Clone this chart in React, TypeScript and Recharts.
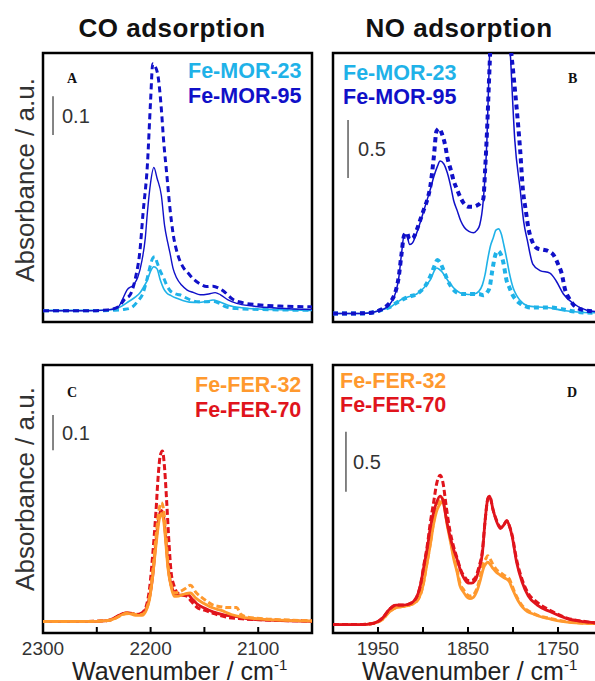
import React from 'react';
import { LineChart, Line, XAxis, YAxis, ReferenceArea, ReferenceLine } from 'recharts';

const FONT = '"Liberation Sans", Arial, sans-serif';
const SERIF = '"Liberation Serif", "Times New Roman", serif';

const LIGHT_BLUE = '#1FB2E8';
const DARK_BLUE = '#1010C8';
const ORANGE = '#FF992E';
const RED = '#E0141C';

// ---------- axes ----------
const coDomain = [2050, 2300];
const coTicks = [2300, 2250, 2200, 2150, 2100, 2050];
const coTickLabels = [2300, 2200, 2100];
const noDomain = [1700, 2000];
const noTicks = [2000, 1950, 1900, 1850, 1800, 1750, 1700];
const noTickLabels = [1950, 1850, 1750];
const coYDomain = [-0.023, 0.6];
const coYTicks = [0, 0.1, 0.2, 0.3, 0.4, 0.5];
const noYDomain = [-0.065, 2.0];
const noYTicks = [0, 0.5, 1.0, 1.5];

// ---------- Panel A: CO on Fe-MOR ----------
const aX_mor95_dash = [2300, 2260, 2240, 2230, 2224, 2219, 2214, 2210, 2207, 2203, 2200, 2198, 2196, 2193, 2190, 2188, 2185, 2182, 2179, 2175, 2170, 2165, 2160, 2154, 2148, 2142, 2137, 2131, 2124, 2115, 2100, 2080, 2050];
const aY_mor95_dash = [0.003, 0.003, 0.005, 0.012, 0.03, 0.04, 0.08, 0.14, 0.23, 0.34, 0.49, 0.575, 0.57, 0.545, 0.47, 0.40, 0.32, 0.24, 0.18, 0.135, 0.105, 0.09, 0.076, 0.065, 0.059, 0.06, 0.056, 0.046, 0.03, 0.022, 0.017, 0.014, 0.012];
const aX_mor95_solid = [2300, 2260, 2240, 2230, 2226, 2222, 2216, 2212, 2208, 2205, 2203, 2200, 2197, 2194, 2190, 2187, 2184, 2182, 2179, 2176, 2171, 2166, 2160, 2154, 2146, 2140, 2135, 2128, 2120, 2105, 2080, 2050];
const aY_mor95_solid = [0.003, 0.003, 0.005, 0.012, 0.03, 0.051, 0.063, 0.08, 0.12, 0.17, 0.23, 0.30, 0.335, 0.31, 0.27, 0.2, 0.16, 0.137, 0.10, 0.08, 0.062, 0.051, 0.045, 0.04, 0.042, 0.045, 0.04, 0.028, 0.02, 0.014, 0.009, 0.006];
const aX_mor23_dash = [2300, 2250, 2235, 2225, 2218, 2212, 2207, 2203, 2200, 2198, 2196, 2194, 2191, 2188, 2185, 2182, 2177, 2173, 2168, 2163, 2155, 2148, 2142, 2136, 2130, 2120, 2100, 2050];
const aY_mor23_dash = [0.003, 0.003, 0.004, 0.006, 0.01, 0.025, 0.044, 0.08, 0.11, 0.125, 0.128, 0.115, 0.095, 0.08, 0.062, 0.05, 0.042, 0.04, 0.034, 0.028, 0.024, 0.024, 0.025, 0.02, 0.012, 0.008, 0.006, 0.004];
const aX_mor23_solid = [2300, 2250, 2235, 2228, 2220, 2214, 2210, 2206, 2203, 2200, 2197, 2194, 2191, 2188, 2185, 2181, 2177, 2170, 2164, 2155, 2148, 2142, 2136, 2128, 2115, 2100, 2050];
const aY_mor23_solid = [0.004, 0.004, 0.006, 0.012, 0.025, 0.035, 0.044, 0.06, 0.074, 0.095, 0.105, 0.1, 0.074, 0.055, 0.044, 0.038, 0.033, 0.027, 0.023, 0.022, 0.025, 0.028, 0.024, 0.016, 0.01, 0.007, 0.004];

// ---------- Panel B: NO on Fe-MOR ----------
const bX_mor95_dash = [2000, 1980, 1960, 1950, 1940, 1935, 1930, 1927, 1924, 1921, 1918, 1915, 1911, 1907, 1903, 1899, 1895, 1892, 1888, 1885, 1882, 1879, 1875, 1873, 1869, 1866, 1862, 1859, 1855, 1850, 1845, 1840, 1836, 1833, 1831, 1829, 1826, 1822, 1814, 1807, 1803, 1799, 1796, 1792, 1789, 1786, 1783, 1779, 1773, 1767, 1761, 1755, 1750, 1746, 1742, 1738, 1734, 1726, 1715, 1700];
const bY_mor95_dash = [0, 0, 0.005, 0.02, 0.06, 0.1, 0.18, 0.28, 0.45, 0.6, 0.62, 0.57, 0.58, 0.64, 0.72, 0.8, 0.88, 0.97, 1.2, 1.4, 1.42, 1.38, 1.28, 1.2, 1.1, 1.02, 0.95, 0.9, 0.85, 0.82, 0.82, 0.83, 0.85, 0.88, 1.1, 1.38, 1.9, 2.5, 2.85, 2.6, 2.1, 1.8, 1.58, 1.25, 0.95, 0.8, 0.66, 0.56, 0.5, 0.49, 0.48, 0.45, 0.38, 0.31, 0.18, 0.12, 0.077, 0.035, 0.02, 0.015];
const bX_mor95_solid = [2000, 1980, 1960, 1950, 1940, 1935, 1930, 1927, 1924, 1921, 1918, 1915, 1912, 1908, 1904, 1900, 1896, 1892, 1888, 1884, 1881, 1877, 1873, 1869, 1866, 1862, 1858, 1854, 1849, 1844, 1840, 1837, 1833, 1829, 1826, 1822, 1814, 1807, 1803, 1798, 1792, 1788, 1784, 1778, 1770, 1759, 1752, 1744, 1733, 1718, 1700];
const bY_mor95_solid = [0, 0, 0.005, 0.02, 0.05, 0.09, 0.17, 0.27, 0.45, 0.6, 0.6, 0.53, 0.54, 0.6, 0.68, 0.77, 0.86, 0.95, 1.05, 1.13, 1.17, 1.15, 1.08, 0.97, 0.87, 0.79, 0.71, 0.66, 0.63, 0.62, 0.64, 0.68, 0.87, 1.33, 2.0, 2.5, 2.8, 2.5, 2.0, 1.33, 0.95, 0.7, 0.56, 0.38, 0.33, 0.31, 0.25, 0.15, 0.077, 0.025, 0.01];
const bX_mor23_dash = [2000, 1970, 1955, 1945, 1937, 1930, 1922, 1915, 1907, 1900, 1895, 1891, 1887, 1884, 1881, 1877, 1873, 1868, 1862, 1856, 1850, 1844, 1838, 1833, 1829, 1826, 1823, 1820, 1817, 1814, 1811, 1807, 1804, 1801, 1796, 1792, 1786, 1781, 1770, 1759, 1750, 1740, 1725, 1700];
const bY_mor23_dash = [0, 0, 0.01, 0.03, 0.05, 0.08, 0.11, 0.13, 0.15, 0.19, 0.24, 0.3, 0.37, 0.41, 0.39, 0.33, 0.26, 0.2, 0.16, 0.15, 0.15, 0.15, 0.15, 0.14, 0.16, 0.2, 0.33, 0.44, 0.48, 0.46, 0.4, 0.25, 0.2, 0.15, 0.1, 0.077, 0.055, 0.046, 0.046, 0.046, 0.04, 0.025, 0.01, 0.004];
const bX_mor23_solid = [2000, 1970, 1955, 1945, 1937, 1930, 1922, 1915, 1907, 1900, 1895, 1891, 1888, 1885, 1882, 1879, 1875, 1870, 1865, 1859, 1853, 1848, 1843, 1838, 1834, 1831, 1828, 1825, 1822, 1819, 1816, 1813, 1810, 1807, 1804, 1800, 1796, 1792, 1784, 1772, 1762, 1744, 1725, 1700];
const bY_mor23_solid = [0, 0, 0.01, 0.03, 0.046, 0.08, 0.115, 0.13, 0.15, 0.19, 0.23, 0.27, 0.32, 0.35, 0.34, 0.32, 0.28, 0.23, 0.19, 0.16, 0.15, 0.146, 0.15, 0.17, 0.22, 0.3, 0.42, 0.52, 0.58, 0.64, 0.65, 0.61, 0.52, 0.42, 0.31, 0.2, 0.14, 0.1, 0.06, 0.05, 0.046, 0.023, 0.01, 0.005];

// ---------- Panel C: CO on Fe-FER ----------
const cX_fer70_dash = [2300, 2260, 2240, 2232, 2226, 2220, 2214, 2208, 2204, 2201, 2198, 2195, 2193, 2191, 2189, 2187, 2185, 2183, 2181, 2178, 2175, 2170, 2166, 2162, 2157, 2150, 2142, 2130, 2115, 2100, 2080, 2050];
const cY_fer70_dash = [0.004, 0.004, 0.006, 0.014, 0.022, 0.024, 0.02, 0.024, 0.04, 0.08, 0.16, 0.26, 0.34, 0.39, 0.40, 0.36, 0.28, 0.19, 0.12, 0.085, 0.07, 0.065, 0.062, 0.05, 0.037, 0.03, 0.023, 0.014, 0.01, 0.008, 0.006, 0.005];
const cX_fer70_solid = [2300, 2260, 2240, 2232, 2226, 2220, 2214, 2208, 2204, 2201, 2198, 2195, 2192, 2190, 2188, 2186, 2184, 2182, 2179, 2175, 2170, 2166, 2162, 2157, 2150, 2142, 2130, 2120, 2110, 2100, 2080, 2050];
const cY_fer70_solid = [0.004, 0.004, 0.006, 0.014, 0.022, 0.024, 0.02, 0.022, 0.035, 0.06, 0.11, 0.19, 0.25, 0.262, 0.25, 0.2, 0.14, 0.1, 0.075, 0.065, 0.065, 0.068, 0.058, 0.045, 0.035, 0.026, 0.018, 0.015, 0.01, 0.008, 0.006, 0.004];
const cX_fer32_dash = [2300, 2260, 2240, 2232, 2226, 2220, 2214, 2208, 2204, 2201, 2198, 2195, 2192, 2190, 2188, 2186, 2184, 2181, 2178, 2174, 2168, 2163, 2158, 2150, 2142, 2135, 2128, 2120, 2116, 2110, 2095, 2080, 2050];
const cY_fer32_dash = [0.004, 0.004, 0.006, 0.012, 0.02, 0.024, 0.02, 0.02, 0.032, 0.06, 0.12, 0.2, 0.265, 0.28, 0.265, 0.21, 0.14, 0.09, 0.07, 0.072, 0.08, 0.088, 0.072, 0.055, 0.042, 0.038, 0.036, 0.036, 0.02, 0.014, 0.01, 0.008, 0.005];
const cX_fer32_solid = [2300, 2260, 2240, 2232, 2226, 2220, 2214, 2208, 2204, 2201, 2198, 2195, 2192, 2190, 2188, 2186, 2184, 2181, 2178, 2174, 2168, 2163, 2158, 2150, 2142, 2135, 2125, 2115, 2100, 2080, 2050];
const cY_fer32_solid = [0.004, 0.004, 0.006, 0.012, 0.02, 0.022, 0.018, 0.018, 0.03, 0.055, 0.11, 0.18, 0.24, 0.255, 0.24, 0.19, 0.13, 0.085, 0.062, 0.063, 0.068, 0.07, 0.058, 0.045, 0.035, 0.03, 0.02, 0.014, 0.01, 0.007, 0.005];

// ---------- Panel D: NO on Fe-FER ----------
const dX_fer70 = [2000, 1970, 1955, 1945, 1937, 1930, 1922, 1915, 1908, 1903, 1899, 1895, 1892, 1888, 1885, 1881, 1878, 1874, 1870, 1866, 1862, 1858, 1854, 1850, 1846, 1842, 1838, 1834, 1831, 1828, 1826, 1822, 1818, 1814, 1810, 1807, 1804, 1801, 1796, 1790, 1783, 1773, 1759, 1740, 1722, 1700];
const dY_fer70_dash = [0, 0, 0.01, 0.05, 0.12, 0.15, 0.15, 0.16, 0.2, 0.3, 0.46, 0.62, 0.78, 0.95, 1.08, 1.15, 1.1, 0.9, 0.72, 0.6, 0.51, 0.42, 0.37, 0.34, 0.34, 0.36, 0.44, 0.57, 0.8, 0.97, 0.99, 0.88, 0.8, 0.75, 0.77, 0.8, 0.76, 0.69, 0.5, 0.35, 0.24, 0.17, 0.11, 0.05, 0.025, 0.01];
const dY_fer70_solid = [0, 0, 0.01, 0.05, 0.12, 0.15, 0.15, 0.16, 0.2, 0.3, 0.45, 0.6, 0.74, 0.87, 0.94, 0.99, 0.96, 0.81, 0.68, 0.58, 0.5, 0.41, 0.35, 0.32, 0.32, 0.34, 0.42, 0.55, 0.8, 0.97, 0.99, 0.88, 0.79, 0.74, 0.77, 0.8, 0.76, 0.68, 0.48, 0.33, 0.22, 0.15, 0.1, 0.046, 0.023, 0.01];
const dX_fer32 = [2000, 1970, 1955, 1945, 1937, 1930, 1922, 1915, 1907, 1900, 1896, 1892, 1888, 1885, 1881, 1878, 1873, 1869, 1866, 1862, 1859, 1855, 1851, 1848, 1844, 1840, 1836, 1833, 1830, 1828, 1825, 1822, 1818, 1814, 1810, 1807, 1804, 1801, 1797, 1794, 1789, 1784, 1777, 1770, 1760, 1751, 1735, 1720, 1700];
const dY_fer32_dash = [0, 0, 0.01, 0.04, 0.1, 0.13, 0.14, 0.15, 0.18, 0.3, 0.46, 0.62, 0.8, 0.9, 0.96, 0.97, 0.78, 0.64, 0.53, 0.42, 0.32, 0.27, 0.23, 0.22, 0.23, 0.28, 0.38, 0.47, 0.51, 0.53, 0.5, 0.46, 0.42, 0.4, 0.38, 0.37, 0.35, 0.3, 0.23, 0.19, 0.14, 0.11, 0.085, 0.065, 0.05, 0.035, 0.018, 0.01, 0.005];
const dY_fer32_solid = [0, 0, 0.01, 0.04, 0.1, 0.13, 0.14, 0.15, 0.18, 0.3, 0.45, 0.61, 0.78, 0.87, 0.93, 0.95, 0.76, 0.62, 0.51, 0.4, 0.3, 0.25, 0.21, 0.2, 0.21, 0.26, 0.35, 0.43, 0.47, 0.48, 0.46, 0.43, 0.4, 0.38, 0.36, 0.35, 0.33, 0.28, 0.22, 0.18, 0.13, 0.1, 0.08, 0.062, 0.045, 0.03, 0.015, 0.01, 0.005];

type Pt = { x: number; y: number };
const zip = (xs: number[], ys: number[]): Pt[] => xs.map((x, i) => ({ x, y: ys[i] }));

type Series = { name: string; data: Pt[]; color: string; w: number; dash?: string };

const seriesA: Series[] = [
  { name: 'a23d', data: zip(aX_mor23_dash, aY_mor23_dash), color: LIGHT_BLUE, w: 3, dash: '6 4' },
  { name: 'a23s', data: zip(aX_mor23_solid, aY_mor23_solid), color: LIGHT_BLUE, w: 1.6 },
  { name: 'a95d', data: zip(aX_mor95_dash, aY_mor95_dash), color: DARK_BLUE, w: 3, dash: '6 4' },
  { name: 'a95s', data: zip(aX_mor95_solid, aY_mor95_solid), color: DARK_BLUE, w: 1.4 },
];
const seriesB: Series[] = [
  { name: 'b23d', data: zip(bX_mor23_dash, bY_mor23_dash), color: LIGHT_BLUE, w: 4, dash: '5 4' },
  { name: 'b23s', data: zip(bX_mor23_solid, bY_mor23_solid), color: LIGHT_BLUE, w: 1.6 },
  { name: 'b95d', data: zip(bX_mor95_dash, bY_mor95_dash), color: DARK_BLUE, w: 4, dash: '5 4' },
  { name: 'b95s', data: zip(bX_mor95_solid, bY_mor95_solid), color: DARK_BLUE, w: 1.5 },
];
const seriesC: Series[] = [
  { name: 'c70d', data: zip(cX_fer70_dash, cY_fer70_dash), color: RED, w: 3, dash: '6 3' },
  { name: 'c70s', data: zip(cX_fer70_solid, cY_fer70_solid), color: RED, w: 2.8 },
  { name: 'c32d', data: zip(cX_fer32_dash, cY_fer32_dash), color: ORANGE, w: 3, dash: '6 3' },
  { name: 'c32s', data: zip(cX_fer32_solid, cY_fer32_solid), color: ORANGE, w: 2.8 },
];
const seriesD: Series[] = [
  { name: 'd32d', data: zip(dX_fer32, dY_fer32_dash), color: ORANGE, w: 3, dash: '6 3' },
  { name: 'd32s', data: zip(dX_fer32, dY_fer32_solid), color: ORANGE, w: 2.8 },
  { name: 'd70d', data: zip(dX_fer70, dY_fer70_dash), color: RED, w: 3, dash: '6 3' },
  { name: 'd70s', data: zip(dX_fer70, dY_fer70_solid), color: RED, w: 2.8 },
];

type Bar = { x: number; y1: number; y2: number; label: string; offset: number };

type PanelProps = {
  left: number; top: number; width: number; height: number;
  margin: { top: number; right: number; bottom: number; left: number };
  xDomain: number[]; xTicks: number[]; xLabels: number[] | null;
  yDomain: number[]; yTicks: number[];
  series: Series[]; bar: Bar;
};

function Panel(p: PanelProps) {
  const { left, top, width, height, margin, xDomain, xTicks, xLabels, yDomain, yTicks, series, bar } = p;
  return (
    <div style={{ position: 'absolute', left, top, width, height }}>
      <LineChart width={width} height={height} margin={margin}>
        <XAxis
          type="number"
          dataKey="x"
          domain={xDomain}
          reversed
          allowDataOverflow
          ticks={xTicks}
          interval={0}
          height={1}
          tickSize={-6}
          tickMargin={15}
          axisLine={false}
          tickLine={{ stroke: '#000', strokeWidth: 2 }}
          tick={xLabels ? { fontSize: 19, fill: '#333', fontFamily: FONT } : false}
          tickFormatter={(v: number) => (xLabels && xLabels.includes(v) ? String(v) : '')}
        />
        <YAxis
          type="number"
          domain={yDomain}
          allowDataOverflow
          ticks={yTicks}
          interval={0}
          width={1}
          tickSize={-6}
          axisLine={false}
          tickLine={{ stroke: '#000', strokeWidth: 2 }}
          tick={false}
        />
        {series.map((s) => (
          <Line
            key={s.name}
            data={s.data}
            dataKey="y"
            type="monotone"
            stroke={s.color}
            strokeWidth={s.w}
            strokeDasharray={s.dash}
            dot={false}
            activeDot={false}
            isAnimationActive={false}
          />
        ))}
        <ReferenceLine
          segment={[{ x: bar.x, y: bar.y1 }, { x: bar.x, y: bar.y2 }]}
          stroke="#333"
          strokeWidth={1.2}
          ifOverflow="visible"
          label={{ value: bar.label, position: 'right', offset: bar.offset, fontSize: 20, fill: '#333', fontFamily: FONT }}
        />
        <ReferenceArea
          x1={xDomain[0]}
          x2={xDomain[1]}
          y1={yDomain[0]}
          y2={yDomain[1]}
          fill="none"
          fillOpacity={0}
          stroke="#000"
          strokeWidth={2.5}
          ifOverflow="visible"
        />
      </LineChart>
    </div>
  );
}

export default function App() {
  return (
    <div style={{ position: 'absolute', left: 0, top: 0, width: 595, height: 681, overflow: 'hidden', background: '#fff', fontFamily: FONT }}>
      <Panel
        left={0} top={0} width={330} height={340}
        margin={{ top: 53, left: 42, right: 18, bottom: 17 }}
        xDomain={coDomain} xTicks={coTicks} xLabels={null}
        yDomain={coYDomain} yTicks={coYTicks}
        series={seriesA}
        bar={{ x: 2290.7, y1: 0.41, y2: 0.5, label: '0.1', offset: 9 }}
      />
      <Panel
        left={320} top={0} width={290} height={340}
        margin={{ top: 53, left: 12, right: 7, bottom: 17 }}
        xDomain={noDomain} xTicks={noTicks} xLabels={null}
        yDomain={noYDomain} yTicks={noYTicks}
        series={seriesB}
        bar={{ x: 1983.3, y1: 1.04, y2: 1.485, label: '0.5', offset: 10 }}
      />
      <Panel
        left={0} top={340} width={330} height={341}
        margin={{ top: 25, left: 42, right: 18, bottom: 47 }}
        xDomain={coDomain} xTicks={coTicks} xLabels={coTickLabels}
        yDomain={coYDomain} yTicks={coYTicks}
        series={seriesC}
        bar={{ x: 2290.7, y1: 0.402, y2: 0.484, label: '0.1', offset: 9 }}
      />
      <Panel
        left={320} top={340} width={290} height={341}
        margin={{ top: 25, left: 12, right: 7, bottom: 47 }}
        xDomain={noDomain} xTicks={noTicks} xLabels={noTickLabels}
        yDomain={noYDomain} yTicks={noYTicks}
        series={seriesD}
        bar={{ x: 1985.6, y1: 1.023, y2: 1.485, label: '0.5', offset: 7 }}
      />
      <svg width={595} height={681} style={{ position: 'absolute', left: 0, top: 0, pointerEvents: 'none' }}>
        <g fontFamily={FONT}>
          <text x={172} y={37} textAnchor="middle" fontSize={26} fontWeight="bold" letterSpacing={0.5} fill="#111">CO adsorption</text>
          <text x={459} y={37} textAnchor="middle" fontSize={26} fontWeight="bold" letterSpacing={0.5} fill="#111">NO adsorption</text>

          <text transform="translate(34,180) rotate(-90)" textAnchor="middle" fontSize={26} fill="#333">Absorbance / a.u.</text>
          <text transform="translate(34,489) rotate(-90)" textAnchor="middle" fontSize={26} fill="#333">Absorbance / a.u.</text>

          <text x={72} y={680} fontSize={25} fill="#222">Wavenumber / cm<tspan fontSize={15} dy={-10}>-1</tspan></text>
          <text x={362} y={680} fontSize={25} fill="#222">Wavenumber / cm<tspan fontSize={15} dy={-10}>-1</tspan></text>

          <text x={188} y={78} fontSize={21.5} fontWeight="bold" fill={LIGHT_BLUE}>Fe-MOR-23</text>
          <text x={188} y={103} fontSize={21.5} fontWeight="bold" fill={DARK_BLUE}>Fe-MOR-95</text>
          <text x={343} y={80} fontSize={21.5} fontWeight="bold" fill={LIGHT_BLUE}>Fe-MOR-23</text>
          <text x={343} y={104} fontSize={21.5} fontWeight="bold" fill={DARK_BLUE}>Fe-MOR-95</text>
          <text x={195} y={392} fontSize={21.5} fontWeight="bold" fill={ORANGE}>Fe-FER-32</text>
          <text x={195} y={417} fontSize={21.5} fontWeight="bold" fill={RED}>Fe-FER-70</text>
          <text x={340} y={388} fontSize={21.5} fontWeight="bold" fill={ORANGE}>Fe-FER-32</text>
          <text x={340} y={412} fontSize={21.5} fontWeight="bold" fill={RED}>Fe-FER-70</text>
        </g>
        <g fontFamily={SERIF} fontWeight="bold" fontSize={14} fill="#111">
          <text x={67} y={83}>A</text>
          <text x={568} y={83}>B</text>
          <text x={67} y={397}>C</text>
          <text x={567} y={397}>D</text>
        </g>
      </svg>
    </div>
  );
}
